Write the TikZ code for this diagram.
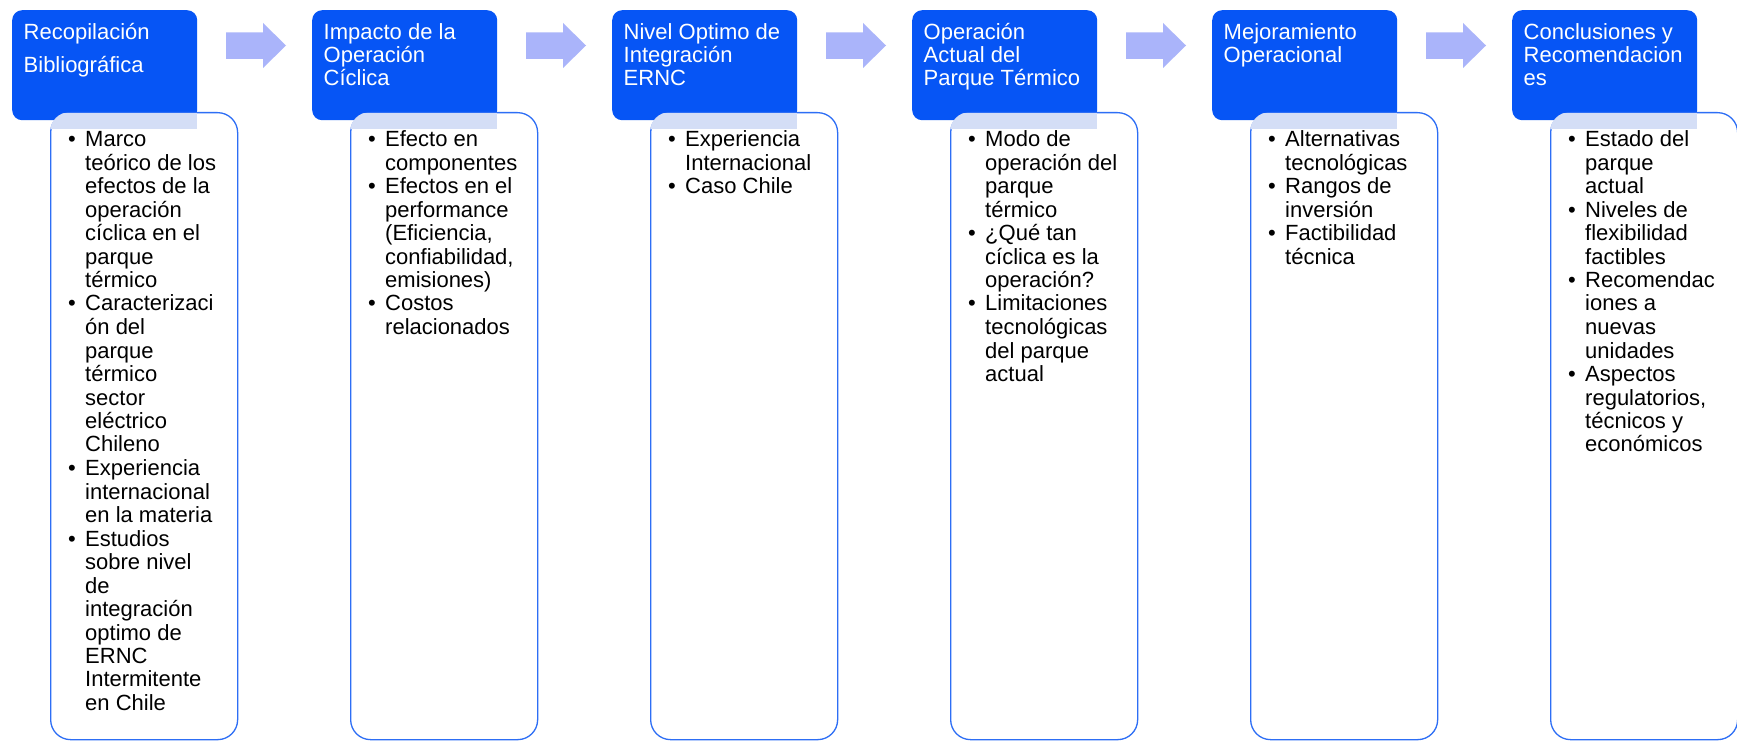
\documentclass[tikz,border=0pt]{standalone}
\usepackage{fontspec}
\setmainfont{Liberation Sans}
\usepackage{array}
\definecolor{hblue}{RGB}{6,85,245}
\definecolor{bborder}{RGB}{45,110,245}
\definecolor{arrowc}{RGB}{170,180,250}
\definecolor{hatchc}{RGB}{212,222,246}
\tikzset{
  titlebox/.style={draw=none, fill=hblue, rounded corners=10pt, minimum width=185pt, minimum height=110pt, anchor=north west, inner sep=0pt},
  bodybox/.style={draw=bborder, line width=1.3pt, fill=white, rounded corners=20pt, minimum width=187pt, minimum height=627pt, anchor=north west, inner sep=0pt},
  titletext/.style={text=white, anchor=base west, inner sep=0pt, font=\fontsize{22}{22.5}\selectfont},
  bodytext/.style={text=black, anchor=base west, inner sep=0pt, font=\fontsize{22}{23.5}\selectfont},
  flowarrow/.style={fill=arrowc, draw=none},
}
\newcommand\flowarr[1]{%
  \fill[flowarrow] (226+#1,32.5) -- (263+#1,32.5) -- (263+#1,23) -- (286+#1,45.5) -- (263+#1,68) -- (263+#1,59) -- (226+#1,59) -- cycle;}
\newcommand\hatchstrip[2]{%
  \begin{scope}
    \clip[rounded corners=20pt] (#1.north west) rectangle (#1.south east);
    \fill[hatchc] ([yshift=-1pt]#1.north west) rectangle ([yshift=-8.5pt]#2.south east);
  \end{scope}}
\begin{document}
\begin{tikzpicture}[x=1pt,y=-1pt]
\useasboundingbox (0,0) rectangle (1737,741);
\fill[white] (0,0) rectangle (1737,741);
% header boxes
\node[titlebox] (h1) at (12,10) {};
\node[titlebox] (h2) at (312,10) {};
\node[titlebox] (h3) at (612,10) {};
\node[titlebox] (h4) at (912,10) {};
\node[titlebox] (h5) at (1212,10) {};
\node[titlebox] (h6) at (1512,10) {};
% body boxes
\node[bodybox] (b1) at (50,112) {};
\node[bodybox] (b2) at (350,112) {};
\node[bodybox] (b3) at (650,112) {};
\node[bodybox] (b4) at (950,112) {};
\node[bodybox] (b5) at (1250,112) {};
\node[bodybox] (b6) at (1550,112) {};
\hatchstrip{b1}{h1}
\hatchstrip{b2}{h2}
\hatchstrip{b3}{h3}
\hatchstrip{b4}{h4}
\hatchstrip{b5}{h5}
\hatchstrip{b6}{h6}
% arrows
\flowarr{0}
\flowarr{300}
\flowarr{600}
\flowarr{900}
\flowarr{1200}
% titles
\node[titletext] (t1) at (23.5,40) {\begin{tabular}[t]{@{}l@{}}Recopilación\\[9.5pt]Bibliográfica\end{tabular}};
\node[titletext] (t2) at (323.5,40) {\begin{tabular}[t]{@{}l@{}}Impacto de la\\Operación\\Cíclica\end{tabular}};
\node[titletext] (t3) at (623.5,40) {\begin{tabular}[t]{@{}l@{}}Nivel Optimo de\\Integración\\ERNC\end{tabular}};
\node[titletext] (t4) at (923.5,40) {\begin{tabular}[t]{@{}l@{}}Operación\\Actual del\\Parque Térmico\end{tabular}};
\node[titletext] (t5) at (1223.5,40) {\begin{tabular}[t]{@{}l@{}}Mejoramiento\\Operacional\end{tabular}};
\node[titletext] (t6) at (1523.5,40) {\begin{tabular}[t]{@{}l@{}}Conclusiones y\\Recomendacion\\es\end{tabular}};
% bodies
\node[bodytext] (c1) at (68,146.5) {\begin{tabular}[t]{@{}w{l}{17pt}@{}l@{}}
• & Marco\\ & teórico de los\\ & efectos de la\\ & operación\\ & cíclica en el\\ & parque\\ & térmico\\
• & Caracterizaci\\ & ón del\\ & parque\\ & térmico\\ & sector\\ & eléctrico\\ & Chileno\\
• & Experiencia\\ & internacional\\ & en la materia\\
• & Estudios\\ & sobre nivel\\ & de\\ & integración\\ & optimo de\\ & ERNC\\ & Intermitente\\ & en Chile
\end{tabular}};
\node[bodytext] (c2) at (368,146.5) {\begin{tabular}[t]{@{}w{l}{17pt}@{}l@{}}
• & Efecto en\\ & componentes\\
• & Efectos en el\\ & performance\\ & (Eficiencia,\\ & confiabilidad,\\ & emisiones)\\
• & Costos\\ & relacionados
\end{tabular}};
\node[bodytext] (c3) at (668,146.5) {\begin{tabular}[t]{@{}w{l}{17pt}@{}l@{}}
• & Experiencia\\ & Internacional\\
• & Caso Chile
\end{tabular}};
\node[bodytext] (c4) at (968,146.5) {\begin{tabular}[t]{@{}w{l}{17pt}@{}l@{}}
• & Modo de\\ & operación del\\ & parque\\ & térmico\\
• & ¿Qué tan\\ & cíclica es la\\ & operación?\\
• & Limitaciones\\ & tecnológicas\\ & del parque\\ & actual
\end{tabular}};
\node[bodytext] (c5) at (1268,146.5) {\begin{tabular}[t]{@{}w{l}{17pt}@{}l@{}}
• & Alternativas\\ & tecnológicas\\
• & Rangos de\\ & inversión\\
• & Factibilidad\\ & técnica
\end{tabular}};
\node[bodytext] (c6) at (1568,146.5) {\begin{tabular}[t]{@{}w{l}{17pt}@{}l@{}}
• & Estado del\\ & parque\\ & actual\\
• & Niveles de\\ & flexibilidad\\ & factibles\\
• & Recomendac\\ & iones a\\ & nuevas\\ & unidades\\
• & Aspectos\\ & regulatorios,\\ & técnicos y\\ & económicos
\end{tabular}};
\end{tikzpicture}
\end{document}
